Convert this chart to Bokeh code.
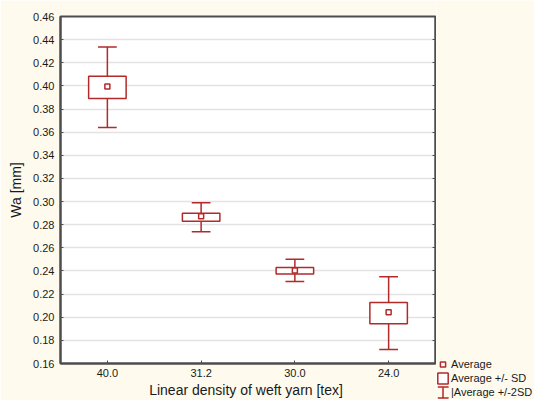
from bokeh.plotting import figure
from bokeh.layouts import row
from bokeh.models import (ColumnDataSource, FactorRange, Range1d, LinearAxis, FixedTicker,
                          PrintfTickFormatter, Legend, LegendItem)
from bokeh.transform import dodge
from bokeh.embed import file_html
from bokeh.resources import INLINE

# ---- data ----
categories = ["40.0", "31.2", "30.0", "24.0"]
average = [0.3994, 0.2873, 0.2403, 0.2043]
sd_low = [0.3890, 0.2830, 0.2374, 0.1944]
sd_high = [0.4083, 0.2900, 0.2431, 0.2127]
sd2_low = [0.3641, 0.2739, 0.2310, 0.1722]
sd2_high = [0.4336, 0.2990, 0.2501, 0.2350]
y_ticks = [0.16, 0.18, 0.20, 0.22, 0.24, 0.26, 0.28, 0.30, 0.32, 0.34, 0.36, 0.38, 0.40, 0.42, 0.44, 0.46]

RED = "#B22A2A"
AX = "#4D4D4D"
TXT = "#1A1A1A"
FONT = "Liberation Sans"
CREAM = "#FEFBEE"

src = ColumnDataSource(dict(cat=categories, avg=average, lo=sd_low, hi=sd_high,
                            lo2=sd2_low, hi2=sd2_high))

# ---------------- main chart ----------------
p = figure(width=436, height=399, frame_width=375, frame_height=347,
           x_range=FactorRange(*categories, range_padding=0),
           y_range=Range1d(0.16, 0.46), output_backend="svg", toolbar_location=None,
           min_border_left=60, min_border_right=1, min_border_top=16, min_border_bottom=36)
p.border_fill_color = CREAM
p.background_fill_color = "white"
p.outline_line_color = AX
p.outline_line_width = 2

# whiskers (+/- 2SD)
p.segment(x0="cat", y0="lo2", x1="cat", y1="hi2", source=src, line_color=RED, line_width=1.5)
p.segment(x0=dodge("cat", -0.1, range=p.x_range), y0="hi2",
          x1=dodge("cat", 0.1, range=p.x_range), y1="hi2", source=src, line_color=RED, line_width=1.5)
p.segment(x0=dodge("cat", -0.1, range=p.x_range), y0="lo2",
          x1=dodge("cat", 0.1, range=p.x_range), y1="lo2", source=src, line_color=RED, line_width=1.5)
# boxes (+/- SD)
p.vbar(x="cat", width=0.4, bottom="lo", top="hi", source=src,
       fill_color="white", line_color=RED, line_width=1.5)
# averages
p.scatter(x="cat", y="avg", source=src, marker="square", size=5,
          fill_color="white", line_color=RED, line_width=1.5)

p.xgrid.visible = False
p.ygrid.grid_line_color = "#E3E3E3"
p.ygrid.grid_line_width = 1.5
p.ygrid.ticker = FixedTicker(ticks=y_ticks)

yax = p.yaxis[0]
yax.ticker = FixedTicker(ticks=y_ticks)
yax.formatter = PrintfTickFormatter(format="%.2f")
yax.axis_label = "Wa [mm]"
xax = p.xaxis[0]
xax.axis_label = "Linear density of weft yarn  [tex]"

for ax in (xax, yax):
    ax.axis_line_color = AX
    ax.axis_line_width = 2
    ax.major_tick_in = 3
    ax.major_tick_out = 0
    ax.major_tick_line_color = AX
    ax.minor_tick_line_color = None
    ax.major_label_text_font = FONT
    ax.major_label_text_font_size = "11px"
    ax.major_label_text_color = TXT
    ax.axis_label_text_font = FONT
    ax.axis_label_text_font_size = "14px"
    ax.axis_label_text_font_style = "normal"
    ax.axis_label_text_color = TXT
xax.major_label_standoff = 5
xax.axis_label_standoff = 2
yax.major_label_standoff = 6
yax.axis_label_standoff = 6

# right axis: inward ticks only, no labels
rax = LinearAxis(ticker=FixedTicker(ticks=y_ticks), axis_line_color=AX, axis_line_width=2,
                 major_tick_in=3, major_tick_out=0, major_tick_line_color=AX,
                 minor_tick_line_color=None, major_label_text_color=None,
                 major_label_text_font_size="0px", major_label_standoff=0)
p.add_layout(rax, "right")

# ---------------- legend strip (right of the chart) ----------------
lf = figure(width=98, height=399, frame_width=98, frame_height=399,
            x_range=Range1d(0, 1), y_range=Range1d(0, 1),
            x_axis_type=None, y_axis_type=None, output_backend="svg", toolbar_location=None,
            min_border=0, frame_align=False)
lf.outline_line_color = None
lf.background_fill_color = CREAM
lf.border_fill_color = CREAM
lf.xgrid.visible = False
lf.ygrid.visible = False
# renderers that only supply legend icons: mapped through a range far off-screen
lf.extra_y_ranges = {"offscreen": Range1d(10, 11)}

lg_avg = lf.scatter(x="avg", y="avg", source=src, y_range_name="offscreen", marker="square",
                    size=5, fill_color="white", line_color=RED, line_width=1.5)
lg_box = lf.rect(x="avg", y="avg", width=0.1, height=0.05, source=src, y_range_name="offscreen",
                 fill_color="white", line_color=RED, line_width=1.5)
# 2SD icon: caps (dashed rect outline) + stem (very thin ellipse)
lg_caps = lf.rect(x="avg", y="avg", width=0.1, height=0.05, source=src,
                  y_range_name="offscreen", fill_alpha=0, line_color=RED, line_width=1.5,
                  line_dash="11 10 11 12")
lg_stem = lf.ellipse(x="avg", y="avg", width=0.01, height=60, width_units="screen",
                     height_units="screen", source=src, y_range_name="offscreen",
                     fill_alpha=0, line_color=RED, line_width=1.5)

legend = Legend(items=[LegendItem(label="Average", renderers=[lg_avg]),
                       LegendItem(label="Average +/- SD", renderers=[lg_box]),
                       LegendItem(label="|Average +/-2SD", renderers=[lg_caps, lg_stem])],
                location=(0, 0), orientation="vertical", glyph_width=13, glyph_height=14,
                label_height=14, label_standoff=2, spacing=0, padding=0, margin=0,
                label_text_font=FONT, label_text_font_size="11px", label_text_color=TXT,
                background_fill_alpha=0, border_line_alpha=0)
lf.add_layout(legend, "center")

layout = row(p, lf, spacing=0)
open("out.html", "w").write(file_html(layout, INLINE))
